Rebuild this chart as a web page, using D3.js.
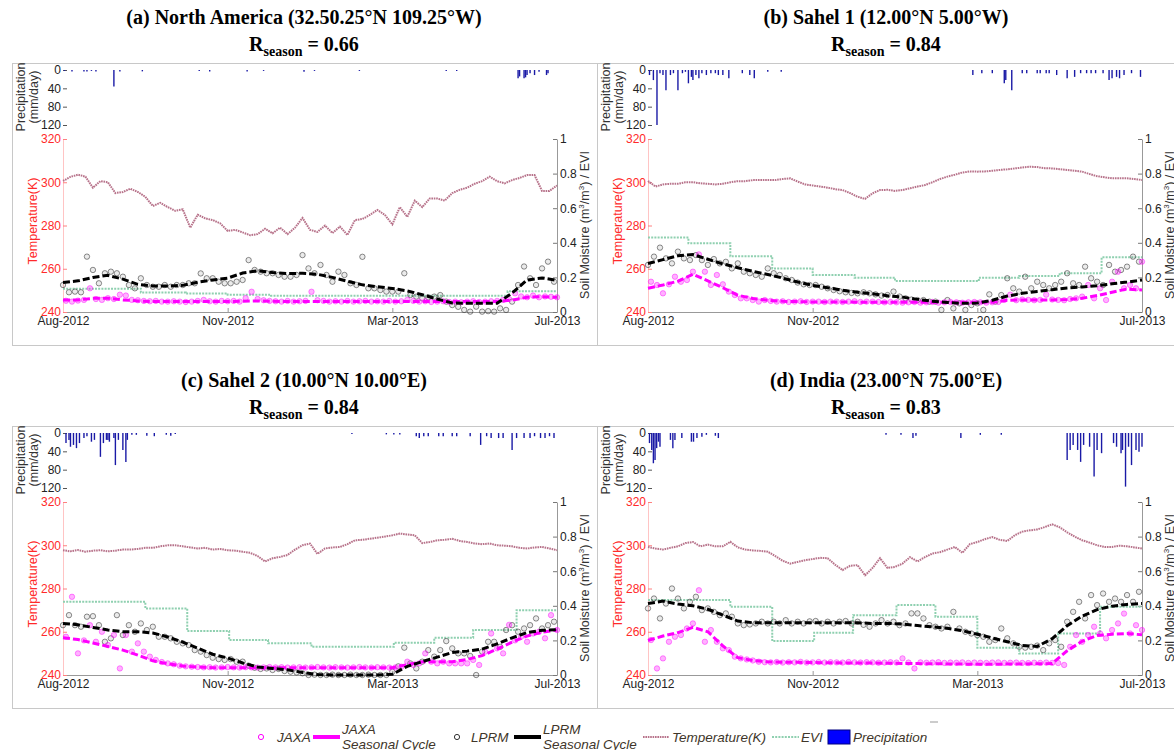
<!DOCTYPE html>
<html>
<head>
<meta charset="utf-8">
<script src="https://cdnjs.cloudflare.com/ajax/libs/d3/7.8.5/d3.min.js"></script>
<style>
  body { margin: 0; background: #fff; }
  svg { display: block; font-family: "Liberation Sans", Arial, sans-serif; }
</style>
</head>
<body>
<svg id="chart" width="1174" height="750"></svg>
<script>
// ---- data (day index 0 = Aug-2012, 330 = Jul-2013) ----
var TEMP_STEP = 5, SAT_STEP = 4, SEAS_STEP = 10, LAST_DAY = 330;

var dateTicks  = [0, 110, 220, 330];
var dateLabels = ['Aug-2012', 'Nov-2012', 'Mar-2013', 'Jul-2013'];
var tempTicks  = [240, 260, 280, 300, 320];
var smTicks    = [0, 0.2, 0.4, 0.6, 0.8, 1];
var precipTicks = [0, 40, 80, 120];

var titles  = ['(a) North America (32.50.25°N 109.25°W)', '(b) Sahel 1 (12.00°N 5.00°W)',
               '(c) Sahel 2 (10.00°N 10.00°E)', '(d) India (23.00°N 75.00°E)'];
var rSeason = ['0.66', '0.84', '0.84', '0.83'];

// (a) North America
var aTemp = [300.6,302.5,303.5,302.6,297.5,300.5,300,295,295.5,297,
  295.5,293.3,289,290.5,288.5,286.8,287.5,279,285,283.3,
  282.5,281,277.5,278,276.8,275.5,276,278.5,276.4,279,
  276,279,283.5,278,277,280,276.5,279.5,275.6,282.5,
  283,284.9,287.2,284.9,280.5,288.5,284,291.5,288.5,292.5,
  292.5,291.5,295,296.5,297.5,299.3,300.5,302.6,300.5,299.5,
  301,302,303.3,303.3,296,296,298.5];
var aLprm = [0.156,0.114,0.118,0.114,0.32,0.243,0.166,0.224,0.233,0.224,
  0.204,0.156,0.137,0.195,0.156,0.146,0.146,0.156,0.146,0.156,
  0.156,0.166,0.166,0.223,0.195,0.195,0.175,0.166,0.166,0.175,
  0.185,0.30,0.243,0.233,0.224,0.224,0.214,0.204,0.204,0.214,
  0.329,0.252,0.224,0.272,0.214,0.175,0.233,0.214,0.166,0.156,
  0.319,0.137,0.137,0.127,0.118,0.118,0.118,0.224,0.098,0.089,
  0.079,0.085,0.089,0.098,0.06,0.04,0.03,0.012,0.002,0.031,
  0.002,0.005,0.002,0.021,0.012,0.06,0.156,0.263,0.195,0.156,
  0.252,0.291,0.175];
var aJaxa = [0.065,0.06,0.066,0.07,0.137,0.075,0.07,0.08,0.075,0.1,
  0.095,0.07,0.068,0.064,0.062,0.064,0.06,0.06,0.062,0.06,
  0.058,0.06,0.064,0.07,0.062,0.06,0.064,0.062,0.064,0.06,
  0.08,0.117,0.075,0.068,0.064,0.062,0.06,0.064,0.06,0.062,
  0.064,0.117,0.068,0.064,0.06,0.062,0.06,0.064,0.06,0.062,
  0.064,0.06,0.062,0.06,0.064,0.06,0.062,0.07,0.064,0.06,
  0.062,0.058,0.06,0.062,0.058,0.06,0.056,0.06,0.062,0.058,
  0.06,0.062,0.064,0.07,0.075,0.108,0.09,0.085,0.095,0.085,
  0.09,0.088,0.085];
var aLprmSeas = [0.17,0.18,0.2,0.212,0.19,0.16,0.15,0.15,0.154,0.172,
  0.185,0.196,0.225,0.238,0.228,0.222,0.224,0.218,0.2,0.178,
  0.157,0.146,0.136,0.122,0.1,0.075,0.052,0.05,0.05,0.05,
  0.11,0.185,0.197,0.183];
var aJaxaSeas = [0.069,0.07,0.079,0.079,0.07,0.064,0.06,0.06,0.06,0.06,
  0.06,0.06,0.062,0.064,0.062,0.06,0.06,0.06,0.06,0.06,
  0.06,0.06,0.06,0.06,0.06,0.06,0.06,0.06,0.06,0.06,
  0.069,0.085,0.088,0.085];
var aEviDay = [0, 52, 82, 110, 139, 297];
var aEviVal = [0.135, 0.112, 0.107, 0.1, 0.094, 0.12];
var aPrecip = [[1,2],[6,3],[14,3],[16,3],[19,2],[22,3],[34,36],[38,3],[53,3],[91,2],[98,3],
  [123,3],[134,2],[161,4],[168,2],[198,2],[256,2],[263,2],[304,18],[305,14],[308,18],
  [309,16],[310,11],[312,7],[315,11],[318,4],[323,11],[324,7]];

// (b) Sahel 1
var bTemp = [300.6,298,299,299.3,299.3,300,300,299.5,299.3,299,
  299.3,300,300.5,300.5,301,301,301,301,301.5,301.8,
  300.3,299,298.5,298,297.5,296.8,296.4,295,293.3,292.3,
  294.9,296.4,296.5,296,296.4,297.2,298,298.7,300,301.5,
  302.6,303.5,304.5,305,304.9,305,305.3,305.7,306,306.4,
  306.8,307.2,307,306.5,306.4,306,305.7,305.3,304.9,303.8,
  302.8,302.3,301.8,301.8,301.8,301.5,301];
var bLprm = [0.272,0.32,0.372,0.31,0.281,0.349,0.31,0.30,0.329,0.30,
  0.272,0.306,0.281,0.29,0.252,0.281,0.233,0.224,0.214,0.204,
  0.252,0.224,0.214,0.195,0.185,0.17,0.16,0.156,0.156,0.146,
  0.137,0.127,0.12,0.114,0.11,0.108,0.114,0.108,0.102,0.095,
  0.098,0.118,0.089,0.079,0.072,0.069,0.069,0.06,0.06,0.012,
  0.069,0.021,0.05,0.012,0.04,0.05,0.012,0.102,0.06,0.098,
  0.195,0.137,0.118,0.204,0.137,0.175,0.156,0.137,0.156,0.175,
  0.224,0.166,0.156,0.262,0.195,0.175,0.156,0.272,0.233,0.243,
  0.262,0.32,0.291];
var bJaxa = [0.175,0.156,0.108,0.16,0.204,0.175,0.185,0.233,0.333,0.233,
  0.156,0.214,0.16,0.118,0.098,0.079,0.079,0.069,0.06,0.069,
  0.064,0.06,0.062,0.058,0.06,0.062,0.058,0.06,0.06,0.058,
  0.06,0.06,0.058,0.06,0.062,0.058,0.06,0.06,0.058,0.056,
  0.058,0.056,0.054,0.056,0.058,0.054,0.056,0.058,0.054,0.056,
  0.058,0.056,0.054,0.056,0.058,0.056,0.054,0.056,0.058,0.07,
  0.1,0.068,0.072,0.07,0.068,0.07,0.1,0.072,0.07,0.068,
  0.075,0.079,0.089,0.156,0.079,0.137,0.069,0.175,0.233,0.137,
  0.156,0.137,0.291];
var bLprmSeas = [0.28,0.303,0.325,0.332,0.305,0.278,0.256,0.235,0.217,0.196,
  0.173,0.154,0.14,0.126,0.114,0.105,0.094,0.086,0.073,0.062,
  0.055,0.05,0.052,0.068,0.092,0.108,0.119,0.129,0.139,0.145,
  0.152,0.163,0.173,0.185];
var bJaxaSeas = [0.137,0.156,0.178,0.218,0.18,0.14,0.097,0.078,0.068,0.062,
  0.06,0.058,0.058,0.058,0.057,0.057,0.056,0.056,0.056,0.056,
  0.056,0.056,0.056,0.056,0.068,0.07,0.07,0.07,0.072,0.079,
  0.095,0.114,0.133,0.127];
var bEviDay = [0, 27, 55, 83, 110, 138, 165, 221, 248, 275, 303];
var bEviVal = [0.43, 0.397, 0.322, 0.252, 0.214, 0.198, 0.179, 0.198, 0.208, 0.224, 0.316];
var bPrecip = [[1,11],[3.6,22],[6,120],[8,7],[10,11],[12,44],[15,11],[17,7],[20,44],[23,7],
  [25,4],[27,29],[29,15],[30,22],[32,11],[34,18],[36,7],[39,11],[42,7],[45,7],[47,11],
  [50,11],[54,18],[63,7],[68,11],[71,18],[80,4],[89,4],[217,11],[223,7],[230,7],[238,29],
  [239,22],[243,44],[250,7],[253,7],[260,7],[262,7],[266,7],[268,7],[273,11],[280,18],
  [285,15],[289,7],[293,7],[296,7],[299,7],[304,7],[308,22],[310,18],[313,15],[315,18],
  [318,11],[323,7],[329,15]];

// (c) Sahel 2
var cTemp = [297.7,297.2,297.8,297,297.5,297.7,297.2,297.5,298,298,
  298.3,298.8,298.8,299.5,300,300,299.5,299,298.5,298.8,
  298,298.3,297.7,297.5,297,296.5,295,292.5,294,294.6,
  295.5,298,300,300.8,296,298.5,299,299.2,300.5,302.3,
  302.5,303,303.5,304,304.6,305.4,305,304.6,301,301.5,
  302.3,302.5,303,302,301.5,300.8,300.5,300.8,300,299.8,
  299.5,298.8,298.5,299,299.2,298.5,297.7];
var cLprm = [0.288,0.346,0.288,0.279,0.337,0.34,0.288,0.192,0.212,0.346,
  0.231,0.288,0.25,0.298,0.26,0.279,0.221,0.221,0.212,0.192,
  0.183,0.173,0.144,0.135,0.115,0.1,0.092,0.087,0.092,0.077,
  0.077,0.054,0.042,0.035,0.038,0.029,0.035,0.023,0.019,0.015,
  0.01,0,0.002,0,0,0.002,0,0,0.002,0,
  0,0.002,0,0,0,0.019,0.05,0.158,0.067,0.038,
  0.077,0.144,0.106,0.144,0.196,0.154,0.125,0.125,0.11,0,
  0.135,0.192,0.192,0.163,0.26,0.288,0.25,0.269,0.288,0.327,
  0.269,0.288,0.308];
var cJaxa = [0.221,0.452,0.125,0.2,0.288,0.192,0.25,0.173,0.231,0.038,
  0.231,0.135,0.183,0.135,0.106,0.087,0.075,0.067,0.062,0.054,
  0.05,0.048,0.046,0.044,0.045,0.043,0.044,0.046,0.044,0.043,
  0.045,0.044,0.043,0.044,0.046,0.044,0.045,0.043,0.044,0.045,
  0.043,0.044,0.046,0.044,0.043,0.045,0.044,0.043,0.044,0.046,
  0.044,0.043,0.045,0.044,0.043,0.044,0.048,0.077,0.058,0.067,
  0.125,0.077,0.067,0.077,0.067,0.067,0.067,0.067,0.087,0.058,
  0.135,0.24,0.154,0.125,0.29,0.2,0.221,0.192,0.24,0.25,
  0.212,0.346,0.26];
var cLprmSeas = [0.298,0.29,0.275,0.26,0.25,0.25,0.243,0.22,0.19,0.155,
  0.12,0.098,0.07,0.046,0.038,0.03,0.015,0.003,0,0,
  0,0,0.004,0.05,0.077,0.103,0.13,0.138,0.15,0.18,
  0.215,0.245,0.258,0.262];
var cJaxaSeas = [0.215,0.205,0.185,0.165,0.144,0.115,0.082,0.065,0.052,0.046,
  0.042,0.042,0.042,0.042,0.042,0.042,0.042,0.042,0.042,0.042,
  0.042,0.042,0.042,0.06,0.077,0.077,0.077,0.09,0.112,0.15,
  0.19,0.225,0.248,0.26];
var cEviDay = [0, 55, 83, 111, 137, 166, 221, 248, 274, 303];
var cEviVal = [0.423, 0.385, 0.254, 0.202, 0.183, 0.163, 0.187, 0.215, 0.26, 0.375];
var cPrecip = [[2,22],[4,15],[5,30],[7,26],[9,33],[11,22],[14,11],[16,7],[19,19],[21,15],
  [25,52],[27,22],[29,15],[30,15],[31,19],[34,11],[35,70],[37,15],[40,37],[42,63],[43,15],
  [46,4],[49,4],[56,6],[61,7],[69,4],[72,6],[75,2],[193,2],[216,3],[221,3],[225,3],[236,7],
  [238,11],[241,7],[244,7],[251,7],[254,7],[260,7],[263,7],[272,7],[279,26],[283,7],[286,11],
  [291,11],[294,11],[300,37],[303,11],[308,11],[312,11],[315,7],[319,11],[322,11],[325,7],[328,11]];

// (d) India
var dTemp = [299.2,298.5,298,298.8,299.5,301,301.5,299.5,300.3,299.5,
  299.5,301.6,299,298,297.6,297.4,297,295,292.8,291.5,
  292.3,293.1,293.6,294.2,294,291,288.5,290.5,290.8,286.1,
  289.5,294,289.5,290,291.5,294.5,292.5,294.5,296.2,296.8,
  298,299.2,296.5,300.5,301.5,302.8,303.8,302.5,302,304.6,
  306.3,306.9,307.3,308.4,309.7,308.3,306,304,302.3,301.2,
  300,299.2,299.2,299.8,299.5,299,298.5];
var dLprm = [0.385,0.442,0.327,0.413,0.5,0.442,0.385,0.423,0.452,0.375,
  0.385,0.365,0.346,0.356,0.337,0.298,0.288,0.292,0.298,0.308,
  0.298,0.308,0.298,0.317,0.298,0.308,0.298,0.31,0.312,0.298,
  0.308,0.298,0.308,0.312,0.298,0.308,0.29,0.279,0.298,0.317,
  0.298,0.308,0.288,0.298,0.356,0.356,0.327,0.288,0.279,0.269,
  0.279,0.365,0.269,0.25,0.24,0.23,0.221,0.192,0.202,0.269,
  0.212,0.183,0.163,0.158,0.163,0.17,0.144,0.183,0.202,0.163,
  0.308,0.365,0.423,0.327,0.462,0.404,0.471,0.423,0.442,0.423,
  0.462,0.423,0.481];
var dJaxa = [0.202,0.038,0.096,0.192,0.221,0.231,0.269,0.298,0.49,0.192,
  0.26,0.192,0.154,0.144,0.106,0.096,0.09,0.084,0.077,0.074,
  0.073,0.075,0.072,0.074,0.073,0.076,0.072,0.073,0.075,0.072,
  0.074,0.073,0.072,0.075,0.073,0.072,0.074,0.073,0.071,0.072,
  0.074,0.072,0.096,0.072,0.038,0.073,0.071,0.072,0.074,0.07,
  0.072,0.071,0.073,0.07,0.072,0.071,0.07,0.072,0.073,0.07,
  0.071,0.072,0.07,0.069,0.071,0.07,0.072,0.07,0.069,0.058,
  0.163,0.231,0.192,0.231,0.279,0.24,0.212,0.26,0.298,0.355,
  0.24,0.288,0.26];
var dLprmSeas = [0.413,0.427,0.41,0.4,0.38,0.346,0.312,0.302,0.302,0.302,
  0.302,0.302,0.302,0.302,0.302,0.298,0.298,0.295,0.286,0.278,
  0.27,0.256,0.236,0.214,0.192,0.171,0.165,0.21,0.285,0.34,
  0.378,0.398,0.408,0.413];
var dJaxaSeas = [0.2,0.225,0.245,0.275,0.25,0.168,0.1,0.084,0.076,0.073,
  0.073,0.072,0.071,0.07,0.07,0.069,0.068,0.067,0.066,0.065,
  0.064,0.063,0.062,0.062,0.063,0.064,0.065,0.066,0.14,0.195,
  0.228,0.236,0.24,0.232];
var dEviDay = [0, 55, 83, 111, 137, 166, 192, 220, 248, 274, 302];
var dEviVal = [0.433, 0.394, 0.196, 0.244, 0.346, 0.404, 0.337, 0.158, 0.125, 0.24, 0.394];
var dPrecip = [[1,22],[2.5,37],[3.6,66],[4.7,59],[5.8,33],[7,19],[8,30],[15,15],[16.6,33],
  [18,15],[22.6,11],[29,19],[30.4,19],[32.7,11],[36,8],[39,4],[45,6],[47,11],[159,4],
  [169,4],[177,11],[179,6],[209,11],[222,4],[236,4],[280,59],[282,37],[284,26],[287,37],
  [289,63],[291,26],[295,30],[298,95],[300,37],[303,44],[311,22],[313,30],[316,44],
  [317,37],[319,117],[321,30],[323,70],[326,37],[328,41],[330,30]];

// ---- drawing ----
(function() {
  var svg = d3.select('#chart');

  var plotW = 494;
  var textCol = '#222';
  var col = {
    jaxa: '#ff00ff', lprm: '#333', temp: '#b7728a', evi: '#8fd0b0',
    precip: '#1a1aa6', legendText: '#40362a'
  };

  var layout = [
    {left: 63,  oy: 0,   boxX: 12,  boxW: 585, cx: 304},
    {left: 648, oy: 0,   boxX: 597, boxW: 590, cx: 886},
    {left: 63,  oy: 363, boxX: 12,  boxW: 585, cx: 304},
    {left: 648, oy: 363, boxX: 597, boxW: 590, cx: 886}
  ];

  var panels = [
    {temp: aTemp, lprm: aLprm, jaxa: aJaxa, lprmSeas: aLprmSeas, jaxaSeas: aJaxaSeas, eviDay: aEviDay, eviVal: aEviVal, precip: aPrecip},
    {temp: bTemp, lprm: bLprm, jaxa: bJaxa, lprmSeas: bLprmSeas, jaxaSeas: bJaxaSeas, eviDay: bEviDay, eviVal: bEviVal, precip: bPrecip},
    {temp: cTemp, lprm: cLprm, jaxa: cJaxa, lprmSeas: cLprmSeas, jaxaSeas: cJaxaSeas, eviDay: cEviDay, eviVal: cEviVal, precip: cPrecip},
    {temp: dTemp, lprm: dLprm, jaxa: dJaxa, lprmSeas: dLprmSeas, jaxaSeas: dJaxaSeas, eviDay: dEviDay, eviVal: dEviVal, precip: dPrecip}
  ];

  var withDays = function(arr, step) {
    return arr.map(function(v, i) { return [i * step, v]; });
  };

  var styleAxis = function(g, color, size) {
    g.selectAll('text').attr('fill', color).style('font-size', size + 'px');
    g.selectAll('line').attr('stroke', color);
  };

  panels.forEach(function(p, k) {
    var L = layout[k];
    var g = svg.append('g');

    var x  = d3.scaleLinear().domain([0, LAST_DAY]).range([L.left, L.left + plotW]);
    var yT = d3.scaleLinear().domain([240, 320]).range([312 + L.oy, 139 + L.oy]);
    var yS = d3.scaleLinear().domain([0, 1]).range([312 + L.oy, 139 + L.oy]);
    var yP = d3.scaleLinear().domain([0, 120]).range([70 + L.oy, 125 + L.oy]);

    // panel frame
    g.append('rect')
      .attr('x', L.boxX + 0.5).attr('y', 63.5 + L.oy)
      .attr('width', L.boxW).attr('height', 282)
      .attr('fill', 'none').attr('stroke', '#c8c8c8');

    // title
    g.append('text')
      .attr('x', L.cx).attr('y', 24 + L.oy)
      .attr('text-anchor', 'middle')
      .style('font-family', '"Liberation Serif", "Times New Roman", serif')
      .style('font-weight', 'bold').style('font-size', '20px')
      .text(titles[k]);
    var rt = g.append('text')
      .attr('x', L.cx).attr('y', 51 + L.oy)
      .attr('text-anchor', 'middle')
      .style('font-family', '"Liberation Serif", "Times New Roman", serif')
      .style('font-weight', 'bold').style('font-size', '20px');
    rt.append('tspan').text('R');
    rt.append('tspan').attr('dy', 5).style('font-size', '14px').text('season');
    rt.append('tspan').attr('dy', -5).text(' = ' + rSeason[k]);

    // axes
    var gx = g.append('g').attr('transform', 'translate(0,' + yS(0) + ')')
      .call(d3.axisBottom(x).tickValues(dateTicks)
        .tickFormat(function(d, i) { return dateLabels[i]; })
        .tickSizeInner(-4).tickSizeOuter(0).tickPadding(4));
    gx.select('.domain').attr('stroke', '#999');
    styleAxis(gx, textCol, 12);
    gx.selectAll('line').attr('stroke', '#999');

    var gr = g.append('g').attr('transform', 'translate(' + (L.left + plotW) + ',0)')
      .call(d3.axisRight(yS).tickValues(smTicks).tickFormat(d3.format('~g'))
        .tickSizeInner(-4).tickSizeOuter(0).tickPadding(3));
    gr.select('.domain').attr('stroke', '#999');
    styleAxis(gr, textCol, 12);
    gr.selectAll('line').attr('stroke', '#777');

    var gl = g.append('g').attr('transform', 'translate(' + L.left + ',0)')
      .call(d3.axisLeft(yT).tickValues(tempTicks)
        .tickSizeInner(-4).tickSizeOuter(0).tickPadding(2));
    gl.select('.domain').attr('stroke', '#ffc4c4');
    styleAxis(gl, '#ff2a2a', 12);
    gl.selectAll('line').attr('stroke', '#ff8080');

    var gp = g.append('g').attr('transform', 'translate(' + L.left + ',0)')
      .call(d3.axisLeft(yP).tickValues(precipTicks)
        .tickSizeInner(-4).tickSizeOuter(0).tickPadding(2));
    gp.select('.domain').remove();
    styleAxis(gp, textCol, 12);
    gp.selectAll('line').attr('stroke', '#555');

    // axis titles
    var rot = function(tx, ty) { return 'translate(' + tx + ',' + ty + ') rotate(-90)'; };
    g.append('text').attr('transform', rot(L.left - 38, 97 + L.oy))
      .attr('text-anchor', 'middle').attr('fill', '#333').style('font-size', '12.5px')
      .text('Precipitation');
    g.append('text').attr('transform', rot(L.left - 25, 97 + L.oy))
      .attr('text-anchor', 'middle').attr('fill', '#333').style('font-size', '12.5px')
      .text('(mm/day)');
    g.append('text').attr('transform', rot(L.left - 26, 221 + L.oy))
      .attr('text-anchor', 'middle').attr('fill', '#ff2a2a').style('font-size', '12.5px')
      .text('Temperature(K)');
    var sm = g.append('text').attr('transform', rot(L.left + plotW + 32, 225 + L.oy))
      .attr('text-anchor', 'middle').attr('fill', '#333').style('font-size', '12.5px');
    sm.append('tspan').text('Soil Moisture (m');
    sm.append('tspan').attr('dy', -5).style('font-size', '8px').text('3');
    sm.append('tspan').attr('dy', 5).text('/m');
    sm.append('tspan').attr('dy', -5).style('font-size', '8px').text('3');
    sm.append('tspan').attr('dy', 5).text(') / EVI');

    // precipitation bars (hanging from the top)
    g.append('g').selectAll('line').data(p.precip).enter().append('line')
      .attr('x1', function(d) { return x(d[0]); })
      .attr('x2', function(d) { return x(d[0]); })
      .attr('y1', yP(0))
      .attr('y2', function(d) { return yP(d[1]); })
      .attr('stroke', col.precip).attr('stroke-width', 1.4);

    // EVI step line
    var evi = p.eviDay.map(function(d, i) { return [d, p.eviVal[i]]; });
    evi.push([LAST_DAY, p.eviVal[p.eviVal.length - 1]]);
    g.append('path').datum(evi)
      .attr('d', d3.line().curve(d3.curveStepAfter)
        .x(function(d) { return x(d[0]); })
        .y(function(d) { return yS(d[1]); }))
      .attr('fill', 'none').attr('stroke', col.evi)
      .attr('stroke-width', 2).attr('stroke-dasharray', '2,1.2');

    // temperature
    g.append('path').datum(withDays(p.temp, TEMP_STEP))
      .attr('d', d3.line()
        .x(function(d) { return x(d[0]); })
        .y(function(d) { return yT(d[1]); }))
      .attr('fill', 'none').attr('stroke', col.temp)
      .attr('stroke-width', 2).attr('stroke-dasharray', '1.6,0.8');

    // satellite retrievals
    g.append('g').selectAll('circle').data(withDays(p.lprm, SAT_STEP)).enter().append('circle')
      .attr('cx', function(d) { return x(d[0]); })
      .attr('cy', function(d) { return yS(d[1]); })
      .attr('r', 2.7)
      .attr('fill', '#000').attr('fill-opacity', 0.08)
      .attr('stroke', col.lprm).attr('stroke-opacity', 0.7).attr('stroke-width', 0.8);

    g.append('g').selectAll('circle').data(withDays(p.jaxa, SAT_STEP)).enter().append('circle')
      .attr('cx', function(d) { return x(d[0] + 2); })
      .attr('cy', function(d) { return yS(d[1]); })
      .attr('r', 2.7)
      .attr('fill', col.jaxa).attr('fill-opacity', 0.3)
      .attr('stroke', col.jaxa).attr('stroke-opacity', 0.55).attr('stroke-width', 0.8);

    // seasonal cycles
    var seasLine = d3.line()
      .x(function(d) { return x(d[0]); })
      .y(function(d) { return yS(d[1]); });
    g.append('path').datum(withDays(p.jaxaSeas, SEAS_STEP))
      .attr('d', seasLine).attr('fill', 'none')
      .attr('stroke', col.jaxa).attr('stroke-width', 3)
      .attr('stroke-dasharray', '7,3');
    g.append('path').datum(withDays(p.lprmSeas, SEAS_STEP))
      .attr('d', seasLine).attr('fill', 'none')
      .attr('stroke', '#000').attr('stroke-width', 3)
      .attr('stroke-dasharray', '7,3');
  });

  // ---- legend ----
  var lg = svg.append('g')
    .style('font-style', 'italic').style('font-size', '13.5px')
    .attr('fill', col.legendText);
  var ly = 737;

  lg.append('circle').attr('cx', 261).attr('cy', ly).attr('r', 2.6)
    .attr('fill', 'none').attr('stroke', col.jaxa).attr('stroke-width', 1);
  lg.append('text').attr('x', 277).attr('y', ly + 5).text('JAXA');
  lg.append('line').attr('x1', 313).attr('x2', 340).attr('y1', ly).attr('y2', ly)
    .attr('stroke', col.jaxa).attr('stroke-width', 4);
  lg.append('text').attr('x', 342).attr('y', ly - 3).text('JAXA');
  lg.append('text').attr('x', 342).attr('y', ly + 12).text('Seasonal Cycle');

  lg.append('circle').attr('cx', 457).attr('cy', ly).attr('r', 2.6)
    .attr('fill', 'none').attr('stroke', '#333').attr('stroke-width', 1);
  lg.append('text').attr('x', 471).attr('y', ly + 5).text('LPRM');
  lg.append('line').attr('x1', 514).attr('x2', 541).attr('y1', ly).attr('y2', ly)
    .attr('stroke', '#000').attr('stroke-width', 4);
  lg.append('text').attr('x', 543).attr('y', ly - 3).text('LPRM');
  lg.append('text').attr('x', 543).attr('y', ly + 12).text('Seasonal Cycle');

  lg.append('line').attr('x1', 643).attr('x2', 669).attr('y1', ly).attr('y2', ly)
    .attr('stroke', col.temp).attr('stroke-width', 2).attr('stroke-dasharray', '1.6,0.8');
  lg.append('text').attr('x', 672).attr('y', ly + 5).text('Temperature(K)');

  lg.append('line').attr('x1', 772).attr('x2', 799).attr('y1', ly).attr('y2', ly)
    .attr('stroke', col.evi).attr('stroke-width', 2).attr('stroke-dasharray', '2,1.2');
  lg.append('text').attr('x', 801).attr('y', ly + 5).text('EVI');

  lg.append('rect').attr('x', 828).attr('y', ly - 7).attr('width', 22).attr('height', 14)
    .attr('fill', '#0000ff').attr('stroke', '#000080');
  lg.append('text').attr('x', 853).attr('y', ly + 5).text('Precipitation');

  svg.append('line').attr('x1', 930).attr('x2', 938).attr('y1', 722).attr('y2', 722)
    .attr('stroke', '#999');
})();
</script>
</body>
</html>
